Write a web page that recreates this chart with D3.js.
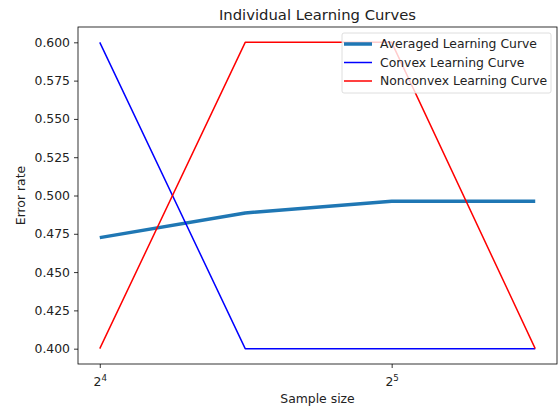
<!DOCTYPE html>
<html>
<head>
<meta charset="utf-8">
<script src="https://cdn.jsdelivr.net/npm/d3@7"></script>
<style>
  body { margin: 0; background: #fff; }
  text { font-family: "DejaVu Sans", sans-serif; fill: #222; }
</style>
</head>
<body>
<div id="chart"></div>
<script>
// data
const sampleSizes = [16, 22.6, 32, 45];
const averaged = [0.4725, 0.4886, 0.4962, 0.4962];
const convex = [0.6, 0.4, 0.4, 0.4];
const nonconvex = [0.4, 0.6, 0.6, 0.4];
const yTicks = [0.400, 0.425, 0.450, 0.475, 0.500, 0.525, 0.550, 0.575, 0.600];
const xTicks = [16, 32];
const seriesNames = ["Averaged Learning Curve", "Convex Learning Curve", "Nonconvex Learning Curve"];

const width = 558, height = 409;
const margin = {top: 27, right: 1, bottom: 45, left: 78};
const fs = 12.4; // tick / label font size

const svg = d3.select("#chart").append("svg")
    .attr("width", width)
    .attr("height", height);

// matplotlib style 5% margins, in log space for x
const lo = Math.log2(d3.min(sampleSizes)), hi = Math.log2(d3.max(sampleSizes));
const pad = (hi - lo) * 0.05;
const x = d3.scaleLog().base(2)
    .domain([Math.pow(2, lo - pad), Math.pow(2, hi + pad)])
    .range([margin.left, width - margin.right]);

const yMin = 0.4, yMax = 0.6, yPad = (yMax - yMin) * 0.05;
const y = d3.scaleLinear()
    .domain([yMin - yPad, yMax + yPad])
    .range([height - margin.bottom, margin.top]);

// lines
const line = d3.line()
    .x((d, i) => x(sampleSizes[i]))
    .y(d => y(d));

const series = [
    {name: seriesNames[0], values: averaged, color: "#1f77b4", w: 3.5},
    {name: seriesNames[1], values: convex, color: "blue", w: 1.5},
    {name: seriesNames[2], values: nonconvex, color: "red", w: 1.5}
];

series.forEach(s => {
    svg.append("path")
        .datum(s.values)
        .attr("d", line)
        .attr("fill", "none")
        .attr("stroke", s.color)
        .attr("stroke-width", s.w)
        .attr("stroke-linejoin", "round");
});

// axes
const yAxis = svg.append("g")
    .attr("transform", `translate(${margin.left},0)`)
    .call(d3.axisLeft(y).tickValues(yTicks).tickFormat(d3.format(".3f")).tickSize(4).tickPadding(4));
yAxis.selectAll("text").style("font-size", fs + "px").style("fill", "#222");

const xAxis = svg.append("g")
    .attr("transform", `translate(0,${height - margin.bottom})`)
    .call(d3.axisBottom(x).tickValues(xTicks).tickFormat("").tickSize(4));

xAxis.selectAll(".tick").each(function(d) {
    const t = d3.select(this).append("text")
        .attr("y", 22)
        .attr("text-anchor", "middle")
        .style("font-size", fs + "px")
        .style("fill", "#222");
    t.append("tspan").text("2");
    t.append("tspan").attr("dy", -5).style("font-size", "8.7px").text(Math.round(Math.log2(d)));
});

svg.selectAll(".domain").remove();
svg.selectAll(".tick line").attr("stroke", "#000").attr("stroke-width", 0.8);

// frame
svg.append("rect")
    .attr("x", margin.left)
    .attr("y", margin.top)
    .attr("width", width - margin.right - margin.left)
    .attr("height", height - margin.bottom - margin.top)
    .attr("fill", "none")
    .attr("stroke", "#000")
    .attr("stroke-width", 0.8);

// title and labels
svg.append("text")
    .attr("x", (margin.left + width - margin.right) / 2)
    .attr("y", 20)
    .attr("text-anchor", "middle")
    .style("font-size", "14.8px")
    .text("Individual Learning Curves");

svg.append("text")
    .attr("x", (margin.left + width - margin.right) / 2)
    .attr("y", 403)
    .attr("text-anchor", "middle")
    .style("font-size", fs + "px")
    .text("Sample size");

svg.append("text")
    .attr("transform", `translate(25,${(margin.top + height - margin.bottom) / 2}) rotate(-90)`)
    .attr("text-anchor", "middle")
    .style("font-size", fs + "px")
    .text("Error rate");

// legend
const legend = svg.append("g").attr("transform", "translate(342,33)");
legend.append("rect")
    .attr("x", 0)
    .attr("y", 0)
    .attr("width", 209)
    .attr("height", 60)
    .attr("rx", 2)
    .attr("fill", "white")
    .attr("fill-opacity", 0.8)
    .attr("stroke", "#d6d6d6")
    .attr("stroke-width", 0.8);

series.forEach((s, i) => {
    const ry = 11 + i * 18.5;
    legend.append("line")
        .attr("x1", 2).attr("x2", 30)
        .attr("y1", ry).attr("y2", ry)
        .attr("stroke", s.color)
        .attr("stroke-width", s.w);
    legend.append("text")
        .attr("x", 38)
        .attr("y", ry)
        .attr("dy", "0.35em")
        .style("font-size", fs + "px")
        .text(s.name);
});
</script>
</body>
</html>
